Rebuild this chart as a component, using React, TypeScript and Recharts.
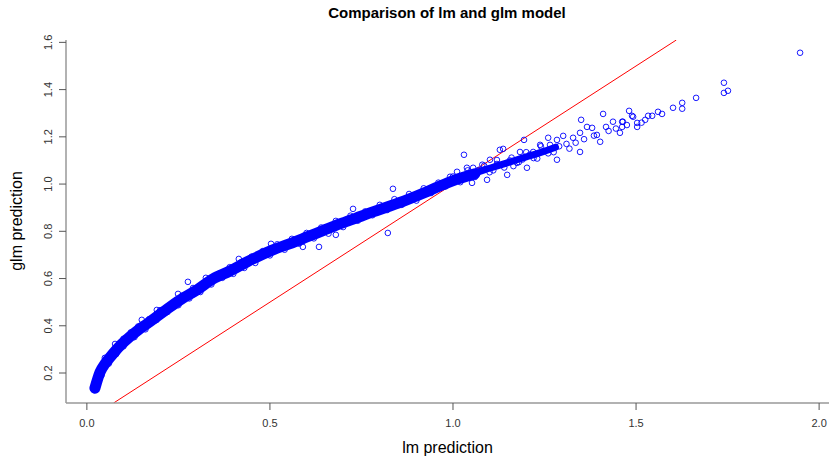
import React from "react";
import { ComposedChart, XAxis, YAxis, Line, Scatter, ReferenceLine } from "recharts";

// dense core of the cloud (centre of the band), lm vs glm prediction
const bandCore: [number, number][] = [
	[0.022, 0.136], [0.036, 0.204], [0.05, 0.24], [0.071, 0.281], [0.095, 0.322],
	[0.117, 0.353], [0.14, 0.382], [0.164, 0.408], [0.208, 0.458], [0.254, 0.509],
	[0.301, 0.552], [0.344, 0.598], [0.391, 0.632], [0.437, 0.67], [0.508, 0.721],
	[0.555, 0.748], [0.601, 0.776], [0.645, 0.803], [0.691, 0.831], [0.735, 0.856],
	[0.781, 0.882], [0.828, 0.907], [0.874, 0.933], [0.92, 0.962], [0.964, 0.992],
	[1.01, 1.02], [1.06, 1.044],
];

const bandTail: [number, number][] = [
	[1.0, 1.014], [1.055, 1.045], [1.1, 1.067], [1.148, 1.09], [1.2, 1.115], [1.238, 1.133], [1.28, 1.156],
];

const upperEdge: [number, number][] = [
	[0.03, 0.19], [0.045, 0.24], [0.06, 0.27], [0.08, 0.305], [0.1, 0.345], [0.12, 0.372],
	[0.14, 0.397], [0.17, 0.428], [0.2, 0.466], [0.23, 0.49], [0.26, 0.527], [0.29, 0.56],
	[0.32, 0.582], [0.36, 0.62], [0.39, 0.648], [0.42, 0.668], [0.45, 0.693], [0.48, 0.716],
	[0.52, 0.745], [0.56, 0.768], [0.6, 0.793], [0.64, 0.816], [0.68, 0.844], [0.72, 0.866],
	[0.76, 0.884], [0.8, 0.912], [0.84, 0.936], [0.88, 0.958], [0.92, 0.982], [0.96, 1.006],
	[1.0, 1.032], [1.04, 1.058], [1.08, 1.082], [1.12, 1.102], [1.16, 1.112], [1.2, 1.135], [1.24, 1.16],
];

const lowerEdge: [number, number][] = [
	[0.025, 0.14], [0.04, 0.19], [0.06, 0.24], [0.08, 0.28], [0.1, 0.313], [0.13, 0.352],
	[0.16, 0.385], [0.19, 0.424], [0.22, 0.458], [0.25, 0.487], [0.28, 0.516], [0.31, 0.543],
	[0.34, 0.575], [0.37, 0.603], [0.4, 0.62], [0.43, 0.645], [0.46, 0.666], [0.5, 0.698],
	[0.54, 0.722], [0.58, 0.748], [0.62, 0.77], [0.66, 0.79], [0.7, 0.818], [0.74, 0.845],
	[0.78, 0.868], [0.82, 0.89], [0.86, 0.912], [0.9, 0.93], [0.94, 0.962], [0.98, 0.99],
	[1.02, 1.008], [1.06, 1.03], [1.1, 1.05], [1.14, 1.07], [1.18, 1.093], [1.22, 1.11], [1.26, 1.13],
];

const strayPoints: [number, number][] = [
	[0.049, 0.264], [0.077, 0.323], [0.15, 0.425], [0.191, 0.467], [0.249, 0.535], [0.276, 0.586],
	[0.325, 0.603], [0.415, 0.683], [0.503, 0.747], [0.59, 0.734], [0.634, 0.734], [0.68, 0.785],
	[0.727, 0.895], [0.822, 0.793], [0.836, 0.98],
	[0.992, 1.031], [1.011, 1.052], [1.03, 1.124], [1.038, 1.069], [1.052, 1.005], [1.055, 1.069],
	[1.07, 1.06], [1.085, 1.078], [1.093, 1.018], [1.101, 1.103], [1.11, 1.058], [1.12, 1.085],
	[1.128, 1.145], [1.137, 1.149], [1.148, 1.039], [1.155, 1.1], [1.165, 1.076], [1.175, 1.09],
	[1.183, 1.136], [1.19, 1.104], [1.194, 1.187], [1.202, 1.069], [1.21, 1.125], [1.219, 1.136],
	[1.23, 1.108], [1.238, 1.166], [1.25, 1.14], [1.26, 1.196], [1.265, 1.166], [1.275, 1.135],
	[1.284, 1.187], [1.284, 1.103], [1.29, 1.16], [1.301, 1.204], [1.31, 1.17], [1.318, 1.15],
	[1.328, 1.196], [1.335, 1.175], [1.347, 1.217], [1.347, 1.136], [1.35, 1.272], [1.358, 1.19],
	[1.366, 1.242], [1.38, 1.238], [1.385, 1.205], [1.393, 1.208], [1.402, 1.179], [1.41, 1.297],
	[1.418, 1.242], [1.425, 1.225], [1.437, 1.264], [1.445, 1.235], [1.456, 1.217], [1.462, 1.264],
	[1.462, 1.242], [1.464, 1.264], [1.475, 1.25], [1.481, 1.31], [1.489, 1.289], [1.492, 1.285],
	[1.503, 1.259], [1.503, 1.242], [1.515, 1.26], [1.525, 1.272], [1.533, 1.289], [1.544, 1.289],
	[1.56, 1.306], [1.571, 1.297], [1.601, 1.323], [1.626, 1.344], [1.626, 1.319], [1.664, 1.365],
	[1.74, 1.429], [1.74, 1.386], [1.751, 1.395], [1.948, 1.556],
];

const xTicks = [0, 0.5, 1.0, 1.5, 2.0];
const yTicks = [0.2, 0.4, 0.6, 0.8, 1.0, 1.2, 1.4, 1.6];

const toRows = (pts: [number, number][]) => pts.map(([x, y]) => ({ x, y }));

const BLUE = "#0000ff";

const RingDot = (props: any) => {
	const { cx, cy } = props;
	if (cx == null || cy == null) return null;
	return <circle cx={cx} cy={cy} r={2.8} fill="none" stroke={BLUE} strokeWidth={0.9} />;
};

const YTick = (props: any) => {
	const { y, payload } = props;
	return (
		<text x={52} y={y} transform={`rotate(-90, 52, ${y})`} textAnchor="middle" fontSize={11} fill="#333">
			{payload.value.toFixed(1)}
		</text>
	);
};

const App: React.FC = () => {
	const font = "'Liberation Sans', Arial, sans-serif";
	return (
		<div style={{ position: "absolute", left: 0, top: 0, width: 829, height: 461, background: "#fff", fontFamily: font }}>
			<ComposedChart width={829} height={461} margin={{ top: 40, right: 0, bottom: 0, left: 0 }}>
				<XAxis
					type="number"
					dataKey="x"
					domain={[-0.057, 2.027]}
					allowDataOverflow
					ticks={xTicks}
					tickFormatter={(v: number) => v.toFixed(1)}
					height={58}
					tickSize={7}
					tickMargin={9}
					stroke="#999"
					strokeWidth={1.5}
					tick={{ fontSize: 11, fill: "#333", fontFamily: font }}
					tickLine={{ stroke: "#555", strokeWidth: 1 }}
				/>
				<YAxis
					type="number"
					dataKey="y"
					domain={[0.073, 1.61]}
					allowDataOverflow
					ticks={yTicks}
					width={66}
					tickSize={7}
					stroke="#999"
					strokeWidth={1.5}
					tick={<YTick />}
					tickLine={{ stroke: "#555", strokeWidth: 1 }}
				/>
				<ReferenceLine
					segment={[{ x: 0.073, y: 0.073 }, { x: 1.61, y: 1.61 }]}
					stroke="#ff0000"
					strokeWidth={1}
					ifOverflow="hidden"
				/>
				<Line
					data={toRows(bandCore)}
					dataKey="y"
					stroke={BLUE}
					strokeWidth={11}
					strokeLinecap="round"
					strokeLinejoin="round"
					dot={false}
					activeDot={false}
					isAnimationActive={false}
					type="monotone"
				/>
				<Line
					data={toRows(bandTail)}
					dataKey="y"
					stroke={BLUE}
					strokeWidth={7}
					strokeLinecap="round"
					dot={false}
					activeDot={false}
					isAnimationActive={false}
					type="monotone"
				/>
				<Scatter data={toRows(upperEdge)} shape={<RingDot />} isAnimationActive={false} />
				<Scatter data={toRows(lowerEdge)} shape={<RingDot />} isAnimationActive={false} />
				<Scatter data={toRows(strayPoints)} shape={<RingDot />} isAnimationActive={false} />
			</ComposedChart>
			<div style={{ position: "absolute", left: 0, width: 894, top: 4, textAlign: "center", fontSize: 15, fontWeight: "bold", color: "#000" }}>
				Comparison of lm and glm model
			</div>
			<div style={{ position: "absolute", left: 66, width: 763, top: 439, textAlign: "center", fontSize: 16, color: "#000" }}>
				lm prediction
			</div>
			<div
				style={{
					position: "absolute",
					left: 17,
					top: 221,
					transform: "translate(-50%, -50%) rotate(-90deg)",
					whiteSpace: "nowrap",
					fontSize: 16,
					color: "#000",
				}}
			>
				glm prediction
			</div>
		</div>
	);
};

export default App;
